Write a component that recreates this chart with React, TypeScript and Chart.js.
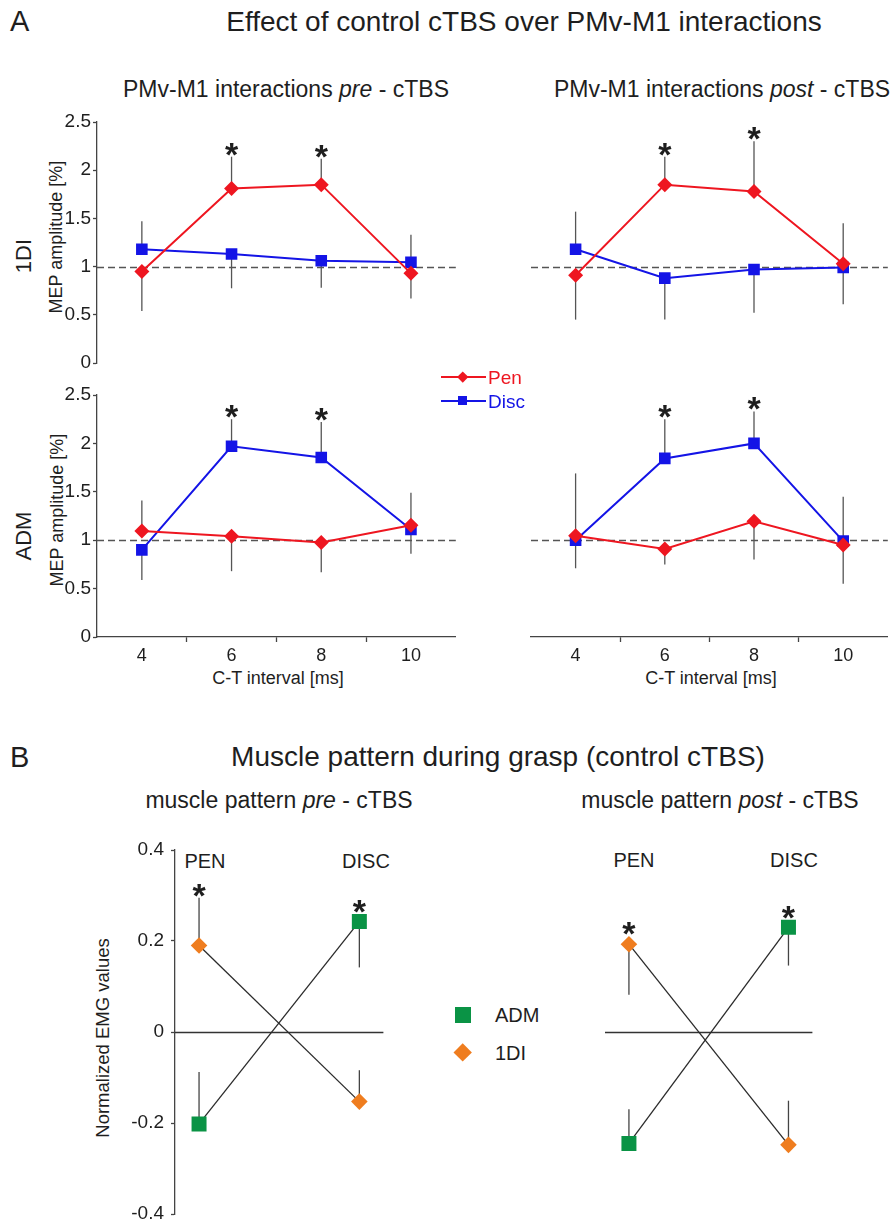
import React, { useEffect, useRef } from 'react';
import { Chart, registerables } from 'chart.js';

Chart.register(...registerables);

// ---------------- DATA ----------------
const intervals = [4, 6, 8, 10];
const sigA = [false, true, true, false];

// 1DI pre-cTBS
const diPrePen = [0.95, 1.81, 1.85, 0.93];
const diPrePenErr = [0.54, 2.14, 2.12, 0.67];
const diPreDisc = [1.18, 1.13, 1.06, 1.045];
const diPreDiscErr = [1.47, 0.775, 0.78, 1.33];
// 1DI post-cTBS
const diPostPen = [0.91, 1.85, 1.78, 1.03];
const diPostPenErr = [0.45, 2.14, 2.3, 1.45];
const diPostDisc = [1.18, 0.88, 0.97, 0.99];
const diPostDiscErr = [1.57, 0.45, 0.52, 0.61];
// ADM pre-cTBS
const admPrePen = [1.096, 1.04, 0.976, 1.155];
const admPrePenErr = [1.41, 0.68, 0.67, 1.49];
const admPreDisc = [0.9, 1.97, 1.855, 1.11];
const admPreDiscErr = [0.59, 2.25, 2.22, 0.86];
// ADM post-cTBS
const admPostPen = [1.045, 0.91, 1.195, 0.95];
const admPostPenErr = [0.71, 0.75, 0.8, 0.55];
const admPostDisc = [1.0, 1.845, 2.0, 0.99];
const admPostDiscErr = [1.69, 2.25, 2.33, 1.45];

// Muscle pattern (normalized EMG)
const grasps = ['PEN', 'DISC'];
const sigB = [true, true];
const emgPreADM = [-0.202, 0.243];
const emgPreADMErr = [-0.088, 0.142];
const emgPre1DI = [0.19, -0.153];
const emgPre1DIErr = [0.295, -0.084];
const emgPostADM = [-0.245, 0.23];
const emgPostADMErr = [-0.17, 0.146];
const emgPost1DI = [0.193, -0.248];
const emgPost1DIErr = [0.082, -0.151];

// ---------------- STYLE ----------------
const FONT = '"Liberation Sans", Arial, Helvetica, sans-serif';
const RED = '#ee1620';
const BLUE = '#1414e6';
const GREEN = '#0a9345';
const ORANGE = '#ef7d1f';
const AXIS = '#444';
const TXT = '#1e1e1e';

const PADL = 4, YW = 56, PADT = 24, PADR = 4, XH = 44, PADB = 4;

Chart.defaults.font.family = FONT;
Chart.defaults.color = TXT;

const fmt = (v: any) => String(Number(Number(v).toFixed(2)));

const annotPlugin = {
  id: 'annot',
  beforeDatasetsDraw(chart: any, _a: any, o: any) {
    const { ctx, chartArea: ca } = chart;
    const xs = chart.scales.x, ys = chart.scales.y;
    ctx.save();
    if (o.refLine != null) {
      const py = Math.round(ys.getPixelForValue(o.refLine)) + 0.5;
      ctx.strokeStyle = o.refColor;
      ctx.lineWidth = o.refWidth;
      ctx.setLineDash(o.refDash || []);
      ctx.beginPath();
      ctx.moveTo(ca.left, py);
      ctx.lineTo(ca.right, py);
      ctx.stroke();
      ctx.setLineDash([]);
    }
    ctx.strokeStyle = o.errColor;
    ctx.lineWidth = o.errWidth;
    chart.data.datasets.forEach((ds: any) => {
      ds.data.forEach((p: any, i: number) => {
        const px = xs.getPixelForValue(p.x);
        ctx.beginPath();
        ctx.moveTo(px, ys.getPixelForValue(p.y));
        ctx.lineTo(px, ys.getPixelForValue(ds.errEnds[i]));
        ctx.stroke();
      });
    });
    ctx.restore();
  },
  afterDatasetsDraw(chart: any, _a: any, o: any) {
    const { ctx } = chart;
    const xs = chart.scales.x, ys = chart.scales.y;
    ctx.save();
    ctx.fillStyle = TXT;
    ctx.font = o.starFont;
    ctx.textAlign = 'center';
    ctx.textBaseline = 'alphabetic';
    (o.sig || []).forEach((s: boolean, i: number) => {
      if (!s) return;
      let top = Infinity, px = 0;
      chart.data.datasets.forEach((ds: any) => {
        const p = ds.data[i];
        px = xs.getPixelForValue(p.x);
        const half = ds.pointStyle === 'rect' ? ds.pointRadius * Math.SQRT1_2 : ds.pointRadius;
        top = Math.min(top, ys.getPixelForValue(p.y) - half, ys.getPixelForValue(ds.errEnds[i]));
      });
      ctx.fillText('*', px, top - o.starGap + o.starBase);
    });
    ctx.restore();
  },
};

function ds(label: string, xs: number[], ys: number[], err: number[], color: string, line: string, style: string, r: number, bw: number) {
  return {
    label,
    data: xs.map((x, i) => ({ x, y: ys[i] })),
    errEnds: err,
    borderColor: line,
    backgroundColor: color,
    pointBackgroundColor: color,
    pointBorderColor: color,
    pointBorderWidth: 0,
    pointStyle: style,
    pointRadius: r,
    borderWidth: bw,
    tension: 0,
  };
}

function mkA(pen: number[], penErr: number[], disc: number[], discErr: number[], showY: boolean, showX: boolean) {
  return {
    type: 'line',
    data: {
      datasets: [
        ds('Pen', intervals, pen, penErr, RED, RED, 'rectRot', 7.5, 2),
        ds('Disc', intervals, disc, discErr, BLUE, BLUE, 'rect', 8.2, 2),
      ],
    },
    options: {
      animation: false,
      responsive: false,
      events: [],
      layout: { padding: { left: PADL, top: PADT, right: PADR, bottom: PADB } },
      plugins: {
        legend: { display: false },
        tooltip: { enabled: false },
        annot: {
          sig: sigA, refLine: 1, refColor: '#555', refWidth: 1.4, refDash: [7, 4],
          errColor: '#555', errWidth: 1.3, starFont: 'bold 34px ' + FONT, starGap: 10, starBase: 19,
        },
      },
      scales: {
        x: {
          type: 'linear', min: 3, max: 11,
          afterFit: (s: any) => { s.height = XH; },
          ticks: {
            display: showX, stepSize: 1, autoSkip: false, maxRotation: 0, minRotation: 0,
            callback: (v: any) => (v % 2 === 0 ? String(v) : ''),
            font: { size: 18 }, color: TXT, padding: 3,
          },
          grid: {
            display: showX, drawOnChartArea: false, drawTicks: true, tickLength: 5, tickWidth: 1.3,
            tickColor: (c: any) => (c.tick && c.tick.value % 2 === 1 && c.tick.value > 4 && c.tick.value < 10 ? AXIS : 'rgba(0,0,0,0)'),
          },
          border: { display: showX, color: AXIS, width: 1.3 },
        },
        y: {
          type: 'linear', min: 0, max: 2.5,
          afterFit: (s: any) => { s.width = YW; },
          ticks: { display: showY, stepSize: 0.5, autoSkip: false, font: { size: 19 }, color: TXT, padding: 2, callback: fmt },
          grid: { display: showY, drawOnChartArea: false, drawTicks: true, tickLength: 4, tickWidth: 1.3, tickColor: AXIS },
          border: { display: showY, color: AXIS, width: 1.3 },
        },
      },
    },
    plugins: [annotPlugin],
  };
}

function mkB(adm: number[], admErr: number[], fdi: number[], fdiErr: number[], showY: boolean) {
  const gx = grasps.map((_g, i) => i + 1);
  return {
    type: 'line',
    data: {
      datasets: [
        ds('ADM', gx, adm, admErr, GREEN, '#2a2a2a', 'rect', 10.6, 1.3),
        ds('1DI', gx, fdi, fdiErr, ORANGE, '#2a2a2a', 'rectRot', 8.3, 1.3),
      ],
    },
    options: {
      animation: false,
      responsive: false,
      events: [],
      layout: { padding: { left: PADL, top: PADT, right: PADR, bottom: PADB } },
      plugins: {
        legend: { display: false },
        tooltip: { enabled: false },
        annot: {
          sig: sigB, refLine: 0, refColor: '#333', refWidth: 1.3, refDash: [],
          errColor: '#444', errWidth: 1.3, starFont: 'bold 34px ' + FONT, starGap: 9.5, starBase: 19,
        },
      },
      scales: {
        x: {
          type: 'linear', min: 0.85, max: 2.15,
          afterFit: (s: any) => { s.height = XH; },
          ticks: { display: false },
          grid: { display: false },
          border: { display: false },
        },
        y: {
          type: 'linear', min: -0.4, max: 0.4,
          afterFit: (s: any) => { s.width = YW; },
          ticks: { display: showY, stepSize: 0.2, autoSkip: false, font: { size: 19 }, color: TXT, padding: 7, callback: fmt },
          grid: { display: showY, drawOnChartArea: false, drawTicks: true, tickLength: 4, tickWidth: 1.3, tickColor: AXIS },
          border: { display: showY, color: AXIS, width: 1.3 },
        },
      },
    },
    plugins: [annotPlugin],
  };
}

type Area = { L: number; T: number; R: number; B: number };

function ChartBox({ area, config }: { area: Area; config: any }) {
  const ref = useRef<HTMLCanvasElement | null>(null);
  useEffect(() => {
    if (!ref.current) return;
    const chart = new Chart(ref.current, config);
    return () => chart.destroy();
  }, []);
  const left = area.L - PADL - YW;
  const top = area.T - PADT;
  const w = area.R - area.L + PADL + YW + PADR;
  const h = area.B - area.T + PADT + XH + PADB;
  return (
    <canvas
      ref={ref}
      width={w}
      height={h}
      style={{ position: 'absolute', left, top, width: w, height: h }}
    />
  );
}

function T({ x, y, size, children, rot, start, color }: any) {
  const tx = start ? '0' : '-50%';
  return (
    <div
      style={{
        position: 'absolute',
        left: x,
        top: y,
        transform: `translate(${tx},-50%)${rot ? ' rotate(-90deg)' : ''}`,
        fontSize: size,
        lineHeight: 1,
        whiteSpace: 'nowrap',
        fontFamily: FONT,
        color: color || TXT,
      }}
    >
      {children}
    </div>
  );
}

const areaA1: Area = { L: 97, T: 122, R: 460, B: 363 };
const areaA2: Area = { L: 531, T: 122, R: 892, B: 363 };
const areaA3: Area = { L: 97, T: 395, R: 460, B: 637 };
const areaA4: Area = { L: 531, T: 395, R: 892, B: 637 };
const areaB1: Area = { L: 175, T: 850, R: 390, B: 1214 };
const areaB2: Area = { L: 605, T: 850, R: 819, B: 1214 };

export default function App() {
  return (
    <div
      style={{
        position: 'absolute',
        left: 0,
        top: 0,
        width: 896,
        height: 1226,
        background: '#fff',
        overflow: 'hidden',
        fontFamily: FONT,
      }}
    >
      {/* Panel A */}
      <T x={10} y={21} size={29} start>A</T>
      <T x={524} y={22} size={28}>Effect of control cTBS over PMv-M1 interactions</T>
      <T x={286} y={89} size={23}>PMv-M1 interactions <i>pre</i> - cTBS</T>
      <T x={722} y={89} size={23}>PMv-M1 interactions <i>post</i> - cTBS</T>
      <T x={24} y={256} size={22} rot>1DI</T>
      <T x={24} y={536} size={22} rot>ADM</T>
      <T x={56} y={237} size={18} rot>MEP amplitude [%]</T>
      <T x={57} y={510} size={18} rot>MEP amplitude [%]</T>
      <T x={278} y={678} size={18}>C-T interval [ms]</T>
      <T x={711} y={678} size={18}>C-T interval [ms]</T>

      <ChartBox area={areaA1} config={mkA(diPrePen, diPrePenErr, diPreDisc, diPreDiscErr, true, false)} />
      <ChartBox area={areaA2} config={mkA(diPostPen, diPostPenErr, diPostDisc, diPostDiscErr, false, false)} />
      <ChartBox area={areaA3} config={mkA(admPrePen, admPrePenErr, admPreDisc, admPreDiscErr, true, true)} />
      <ChartBox area={areaA4} config={mkA(admPostPen, admPostPenErr, admPostDisc, admPostDiscErr, false, true)} />

      {/* Legend A */}
      <div style={{ position: 'absolute', left: 441, top: 375.7, width: 45, height: 2, background: RED }} />
      <div style={{ position: 'absolute', left: 462.7 - 3.75, top: 376.7 - 3.75, width: 7.5, height: 7.5, background: RED, transform: 'rotate(45deg)' }} />
      <T x={488} y={377} size={19} start color={RED}>Pen</T>
      <div style={{ position: 'absolute', left: 441, top: 399.7, width: 45, height: 2, background: BLUE }} />
      <div style={{ position: 'absolute', left: 462.7 - 4.5, top: 400.7 - 4.5, width: 9, height: 9, background: BLUE }} />
      <T x={488} y={401} size={19} start color={BLUE}>Disc</T>

      {/* Panel B */}
      <T x={10} y={757} size={29} start>B</T>
      <T x={498} y={757} size={28}>Muscle pattern during grasp (control cTBS)</T>
      <T x={279} y={800} size={23}>muscle pattern <i>pre</i> - cTBS</T>
      <T x={720} y={800} size={23}>muscle pattern <i>post</i> - cTBS</T>
      <T x={103} y={1038} size={18.5} rot>Normalized EMG values</T>
      <T x={205} y={861} size={20}>{grasps[0]}</T>
      <T x={366} y={861} size={20}>{grasps[1]}</T>
      <T x={634} y={860} size={20}>{grasps[0]}</T>
      <T x={794} y={860} size={20}>{grasps[1]}</T>

      <ChartBox area={areaB1} config={mkB(emgPreADM, emgPreADMErr, emgPre1DI, emgPre1DIErr, true)} />
      <ChartBox area={areaB2} config={mkB(emgPostADM, emgPostADMErr, emgPost1DI, emgPost1DIErr, false)} />

      {/* Legend B */}
      <div style={{ position: 'absolute', left: 462.7 - 8, top: 1015 - 8, width: 16, height: 16, background: GREEN }} />
      <T x={495} y={1015} size={20} start>ADM</T>
      <div style={{ position: 'absolute', left: 462.7 - 6.7, top: 1052.7 - 6.7, width: 13.4, height: 13.4, background: ORANGE, transform: 'rotate(45deg)' }} />
      <T x={495} y={1053} size={20} start>1DI</T>
    </div>
  );
}
